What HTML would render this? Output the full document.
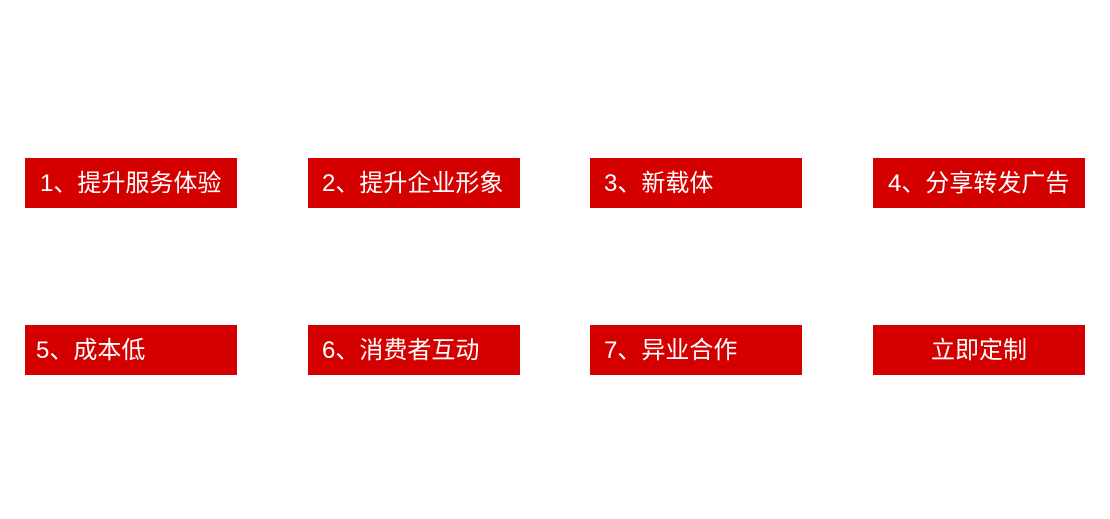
<!DOCTYPE html>
<html><head><meta charset="utf-8"><style>
html,body{margin:0;padding:0;background:#fff;width:1110px;height:519px;overflow:hidden}
.b{position:absolute;width:212px;height:50px;background:#d40000;color:#fff;font-family:"Liberation Sans","Noto Sans CJK SC",sans-serif;font-size:24px;line-height:52px;white-space:nowrap}
.b span{position:absolute;top:0}
</style></head><body>
<div class="b" style="left:25px;top:158px"><span style="left:15px">1、提升服务体验</span></div>
<div class="b" style="left:308px;top:158px"><span style="left:14px">2、提升企业形象</span></div>
<div class="b" style="left:590px;top:158px"><span style="left:14px">3、新载体</span></div>
<div class="b" style="left:873px;top:158px"><span style="left:15px">4、分享转发广告</span></div>
<div class="b" style="left:25px;top:325px"><span style="left:11px">5、成本低</span></div>
<div class="b" style="left:308px;top:325px"><span style="left:14px">6、消费者互动</span></div>
<div class="b" style="left:590px;top:325px"><span style="left:14px">7、异业合作</span></div>
<div class="b" style="left:873px;top:325px;text-align:center">立即定制</div>
</body></html>
